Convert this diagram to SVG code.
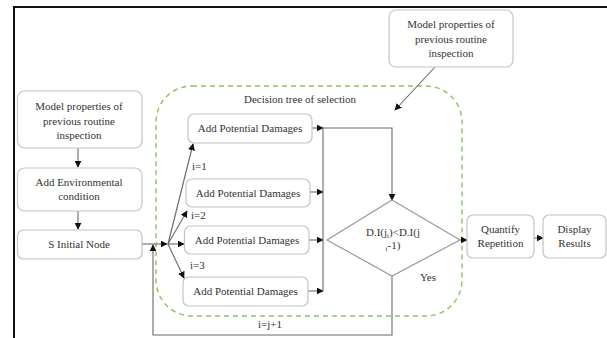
<svg xmlns="http://www.w3.org/2000/svg" width="607" height="338" viewBox="0 0 607 338" font-family="Liberation Serif, DejaVu Serif, serif">
  <style>
    .box { fill: #ffffff; stroke: #c4c4c4; stroke-width: 1.2; }
    .lbl { font-family: 'Liberation Serif', 'DejaVu Serif', serif; font-size: 11px; fill: #333333; text-anchor: middle; }
    .tag { font-family: 'Liberation Serif', 'DejaVu Serif', serif; font-size: 11px; fill: #333333; }
    .wire { fill: none; stroke: #6a6a6a; stroke-width: 1.1; }
    .arr { marker-end: url(#head); }
    .group { fill: none; stroke: #8cc45a; stroke-width: 1.4; stroke-dasharray: 5 4; }
  </style>
  <defs>
    <marker id="head" viewBox="0 0 10 10" refX="9" refY="5" markerWidth="7" markerHeight="7" markerUnits="userSpaceOnUse" orient="auto">
      <path d="M0,0 L10,5 L0,10 z" fill="#111111"/>
    </marker>
  </defs>

  <rect width="607" height="338" fill="#ffffff"/>
  <!-- outer frame -->
  <path d="M14,340 L14,7 L609,7" fill="none" stroke="#111111" stroke-width="2"/>

  <!-- decision tree container -->
  <g id="decision-tree">
    <rect class="group" x="156" y="86" width="306" height="230" rx="36" ry="36"/>
    <text class="lbl" x="300" y="103">Decision tree of selection</text>
  </g>

  <!-- connectors -->
  <g id="connectors">
    <line class="wire arr" x1="78" y1="148" x2="78" y2="167"/>
    <line class="wire arr" x1="78" y1="211" x2="78" y2="229"/>
    <line class="wire arr" x1="142" y1="244" x2="167" y2="244"/>
    <!-- fan-out to damage branches -->
    <line class="wire arr" x1="168" y1="244" x2="193" y2="144"/>
    <line class="wire arr" x1="168" y1="244" x2="187" y2="211"/>
    <line class="wire arr" x1="168" y1="244" x2="184" y2="244"/>
    <line class="wire arr" x1="168" y1="244" x2="184" y2="278"/>
    <!-- branch outputs -->
    <line class="wire arr" x1="312" y1="128" x2="323" y2="128"/>
    <line class="wire arr" x1="310" y1="192" x2="323" y2="192"/>
    <line class="wire arr" x1="309" y1="240" x2="323" y2="240"/>
    <line class="wire arr" x1="308" y1="291" x2="323" y2="291"/>
    <line class="wire" x1="323" y1="128" x2="323" y2="291"/>
    <polyline class="wire arr" points="323,128 392,128 392,200"/>
    <!-- external inspection input -->
    <line class="wire arr" x1="435" y1="67" x2="395" y2="110"/>
    <!-- loop back -->
    <polyline class="wire arr" points="392,276 392,335 153,335 153,245"/>
    <!-- outputs -->
    <line class="wire arr" x1="460" y1="240" x2="467" y2="240"/>
    <line class="wire arr" x1="534" y1="238" x2="543" y2="238"/>
    <text class="tag" x="192" y="170">i=1</text>
    <text class="tag" x="191" y="219">i=2</text>
    <text class="tag" x="190" y="269">i=3</text>
    <text class="lbl" x="270" y="328">i=j+1</text>
    <text class="lbl" x="428" y="281">Yes</text>
  </g>

  <g id="model-props-left">
    <rect class="box" x="17.5" y="91" width="124.5" height="57" rx="7"/>
    <text class="lbl" x="79" y="110">Model properties of</text>
    <text class="lbl" x="79" y="124.5">previous routine</text>
    <text class="lbl" x="79" y="139">inspection</text>
  </g>

  <g id="env-condition">
    <rect class="box" x="17.5" y="168" width="124.5" height="43" rx="7"/>
    <text class="lbl" x="79" y="186">Add Environmental</text>
    <text class="lbl" x="79" y="200">condition</text>
  </g>

  <g id="initial-node">
    <rect class="box" x="17.5" y="230" width="124.5" height="29" rx="6"/>
    <text class="lbl" x="79" y="248">S Initial Node</text>
  </g>

  <g id="damage-1">
    <rect class="box" x="188" y="114" width="124" height="29" rx="6"/>
    <text class="lbl" x="250" y="132">Add Potential Damages</text>
  </g>
  <g id="damage-2">
    <rect class="box" x="186" y="179" width="124" height="28" rx="6"/>
    <text class="lbl" x="248" y="196.5">Add Potential Damages</text>
  </g>
  <g id="damage-3">
    <rect class="box" x="184.5" y="226" width="124.5" height="28" rx="6"/>
    <text class="lbl" x="247" y="243.5">Add Potential Damages</text>
  </g>
  <g id="damage-4">
    <rect class="box" x="183" y="277" width="125" height="29" rx="6"/>
    <text class="lbl" x="245.5" y="295">Add Potential Damages</text>
  </g>

  <g id="model-props-top">
    <rect class="box" x="389" y="10" width="124" height="57" rx="7"/>
    <text class="lbl" x="451" y="28">Model properties of</text>
    <text class="lbl" x="451" y="42.5">previous routine</text>
    <text class="lbl" x="451" y="57">inspection</text>
  </g>

  <g id="decision">
    <polygon points="392,200 460,240 392,276 327,240" fill="#ffffff" stroke="#9a9a9a" stroke-width="1.2"/>
    <text class="lbl" x="393" y="236" font-size="10">D.I(j<tspan font-size="7" baseline-shift="-2">i</tspan>)&lt;D.I(j</text>
    <text class="lbl" x="393" y="249" font-size="10"><tspan font-size="7" baseline-shift="-2">i</tspan>-1)</text>
  </g>

  <g id="quantify">
    <rect class="box" x="467" y="215" width="67" height="43" rx="6"/>
    <text class="lbl" x="500.5" y="233">Quantify</text>
    <text class="lbl" x="500.5" y="247">Repetition</text>
  </g>

  <g id="display">
    <rect class="box" x="543" y="215" width="63" height="43" rx="6"/>
    <text class="lbl" x="574.5" y="233">Display</text>
    <text class="lbl" x="574.5" y="247">Results</text>
  </g>
</svg>
